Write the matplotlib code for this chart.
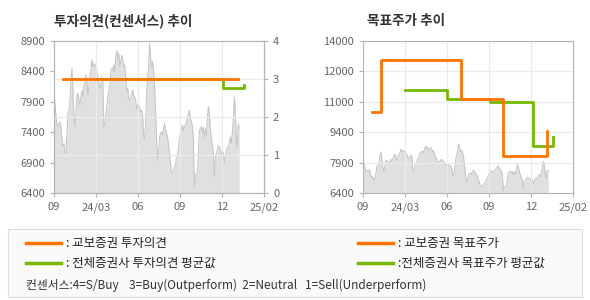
import matplotlib

matplotlib.use("Agg")
import matplotlib.pyplot as plt
import numpy as np
from matplotlib.lines import Line2D
from matplotlib.patches import Rectangle

plt.rcParams["font.family"] = ["Noto Sans CJK KR", "DejaVu Sans"]

# x axis: evenly spaced month marks
X_LABELS = ["09", "24/03", "06", "09", "12", "25/02"]
PRICE_END = 4.41  # last trading day, in tick units

# daily close (won)
PRICE = [
    8065, 7845, 7680, 7515, 7490, 7545, 7570, 7490, 7270, 7160, 7215, 7075, 7050, 7380,
    7735, 7765, 7930, 8260, 8450, 8090, 7650, 7490, 7765, 8010, 8040, 7930, 7845, 7980,
    8090, 7980, 8150, 8230, 8340, 8260, 8010, 8150, 8340, 8395, 8590, 8480, 8530, 8480,
    8505, 8420, 8310, 8200, 8120, 8175, 8310, 8230, 7490, 7515, 7710, 7820, 7980, 8090,
    8175, 8395, 8450, 8420, 8505, 8395, 8640, 8750, 8615, 8700, 8480, 8560, 8670, 8590,
    8480, 8505, 8310, 8090, 8120, 7955, 7930, 7980, 8040, 8090, 8010, 7980, 7930, 7765,
    7845, 7870, 7790, 7735, 7765, 7680, 7325, 7295, 7600, 8040, 8310, 8480, 8860, 8615,
    8480, 8560, 8420, 8175, 7765, 7270, 6940, 7050, 7325, 7380, 7405, 7350, 7460, 7545,
    7460, 7380, 7325, 7185, 7050, 6885, 6745, 6720, 6775, 6830, 6855, 6995, 7020, 7160,
    7295, 7405, 7435, 7515, 7435, 7490, 7515, 7570, 7650, 7710, 7765, 7625, 7570, 7490,
    7270, 6500, 6690, 6720, 6745, 7105, 7435, 7460, 7490, 7405, 7490, 7295, 7460, 7350,
    7625, 7820, 7735, 7460, 7325, 7160, 7075, 6665, 6995, 7050, 7105, 7185, 7160, 7105,
    7075, 7020, 7075, 6885, 6995, 7130, 7130, 7160, 7215, 7325, 7215, 7380, 7625, 7980,
    7790, 7295, 7160, 7545, 7460,
]

# investment opinion (1-4 scale)
OPINION_X = [0.21, 4.39]
OPINION = [3.0, 3.0]
OPINION_AVG_X = [1.0, 4.03, 4.52]
OPINION_AVG = [3.0, 2.76, 2.85]

# target price (won)
TARGET_X = [0.21, 0.44, 2.325, 3.34, 4.39]
TARGET = [10460, 13050, 11080, 8270, 9490]
TARGET_AVG_X = [1.0, 2.01, 3.02, 4.04, 4.52]
TARGET_AVG = [11530, 11080, 10940, 8755, 9205]

LEFT_TICKS = [6400, 6900, 7400, 7900, 8400, 8900]
TARGET_TICK_LABELS = ["6400", "7900", "9400", "11000", "12000", "14000"]

ORANGE = "#ff7300"
GREEN = "#77b800"
FILL = "#e0e0e0"
EDGE = "#c4c4c4"
GRID = "#ebebeb"
SPINE = "#b4b4b4"
TXT = "#666666"

fig = plt.figure(figsize=(5.9, 3.0), dpi=100)
fig.patch.set_facecolor("white")


def style_axes(ax):
    for s in ax.spines.values():
        s.set_color(SPINE)
        s.set_linewidth(0.8)
    ax.tick_params(colors=SPINE, labelcolor=TXT, labelsize=8, length=3, width=0.8)
    ax.set_xlim(0, 5)
    ax.set_xticks(range(len(X_LABELS)))
    ax.set_xticklabels(X_LABELS)


price = np.asarray(PRICE, dtype=float)
px = np.linspace(0, PRICE_END, len(price))

# ---- left: opinion chart
ax1 = fig.add_axes([54 / 590, 107 / 300, 210 / 590, 152 / 300])
style_axes(ax1)
ax1.fill_between(px, 6400, price, color=FILL, lw=0, zorder=1)
ax1.plot(px, price, color=EDGE, lw=0.7, zorder=1.5)
ax1.set_ylim(6400, 8900)
ax1.set_yticks(LEFT_TICKS)
for xv in range(1, 5):
    ax1.axvline(xv, color=GRID, lw=0.9, zorder=2)

ax1b = ax1.twinx()
style_axes(ax1b)
ax1b.set_ylim(0, 4)
ax1b.set_yticks([0, 1, 2, 3, 4])
for yv in [1, 2, 3]:
    ax1b.axhline(yv, color=GRID, lw=0.9, zorder=0)
ax1b.step(OPINION_AVG_X, OPINION_AVG, where="post", color=GREEN, lw=2, zorder=3)
ax1b.step(OPINION_X, OPINION, where="post", color=ORANGE, lw=2, zorder=4)
fig.text(54 / 590, 1 - 21 / 300, "투자의견(컨센서스) 추이", fontsize=9.8, fontweight="bold",
         color="#333333", va="center", ha="left")

# ---- right: target price chart
ax2 = fig.add_axes([363 / 590, 107 / 300, 210 / 590, 152 / 300])
style_axes(ax2)
ax2.fill_between(px, 6400, price, color=FILL, lw=0, zorder=1)
ax2.plot(px, price, color=EDGE, lw=0.7, zorder=1.5)
ax2.set_ylim(6400, 14000)
tick_pos = np.linspace(6400, 14000, len(TARGET_TICK_LABELS))
ax2.set_yticks(tick_pos)
ax2.set_yticklabels(TARGET_TICK_LABELS)
for yv in tick_pos[1:-1]:
    ax2.axhline(yv, color=GRID, lw=0.9, zorder=2)
for xv in range(1, 5):
    ax2.axvline(xv, color=GRID, lw=0.9, zorder=2)
ax2.step(TARGET_AVG_X, TARGET_AVG, where="post", color=GREEN, lw=2, zorder=3)
ax2.step(TARGET_X, TARGET, where="post", color=ORANGE, lw=2, zorder=4)
fig.text(367 / 590, 1 - 21 / 300, "목표주가 추이", fontsize=9.8, fontweight="bold",
         color="#333333", va="center", ha="left")

# ---- legend box
fig.patches.append(Rectangle((8 / 590, 3 / 300), 574 / 590, 68 / 300, transform=fig.transFigure,
                             facecolor="#fafafa", edgecolor="#dddddd", lw=0.8))
legend_rows = [
    (26, 243, ORANGE, ": 교보증권 투자의견"),
    (26, 263, GREEN, ": 전체증권사 투자의견 평균값"),
    (358, 243, ORANGE, ": 교보증권 목표주가"),
    (358, 263, GREEN, ":전체증권사 목표주가 평균값"),
]
for x0, y0, col, label in legend_rows:
    yf = 1 - y0 / 300
    fig.lines.append(Line2D([x0 / 590, (x0 + 35) / 590], [yf, yf], transform=fig.transFigure,
                            color=col, lw=2.5))
    fig.text((x0 + 40) / 590, yf, label, fontsize=9, color="#222222", va="center", ha="left")
fig.text(26 / 590, 1 - 285 / 300,
         "컨센서스:4=S/Buy    3=Buy(Outperform)  2=Neutral   1=Sell(Underperform)",
         fontsize=8.5, color="#333333", va="center", ha="left")

fig.savefig("out.png", dpi=100)
